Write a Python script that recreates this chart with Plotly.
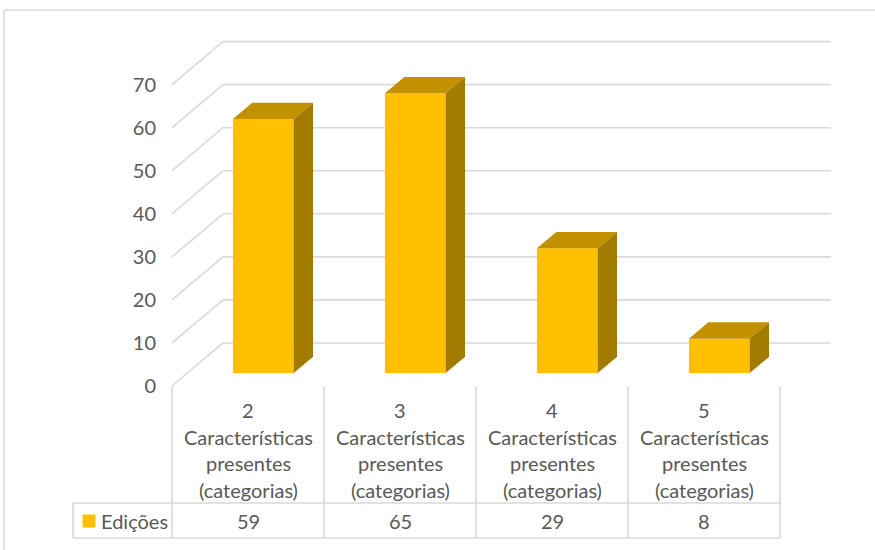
import plotly.graph_objects as go

# ---- data ----
categories_num = ["2", "3", "4", "5"]
category_lines = ["Características", "presentes", "(categorias)"]
series_name = "Edições"
values = [59, 65, 29, 8]
y_ticks = [0, 10, 20, 30, 40, 50, 60, 70]

# ---- styling / geometry constants ----
W, H = 875, 550
X0_PX, Y0_PX = 172, 386          # pixel of front-plane origin
PX_PER_CAT, PX_PER_UNIT = 152, 4.305
KX, KY = 0.3355, 10.0             # depth vector (category units, value units)
D1, D2 = 0.30, 0.68               # bar front / back depth
HALF_W = 0.2
FONT = "Lato"
FS = 20
TXT = "#595959"
GRID = "#D9D9D9"
FRONT, TOP, SIDE = "#FFC000", "#C29100", "#A27C00"


def px_x(p):
    return (p - X0_PX) / PX_PER_CAT


def px_y(p):
    return (Y0_PX - p) / PX_PER_UNIT


fig = go.Figure()
shapes = []

# back wall gridlines + left diagonal lines
n = len(values)
for t in y_ticks:
    shapes.append(dict(type="line", xref="x", yref="y", x0=0, y0=t, x1=KX, y1=t + KY,
                       line=dict(color=GRID, width=1.6), layer="below"))
    shapes.append(dict(type="line", xref="x", yref="y", x0=KX, y0=t + KY, x1=n + KX, y1=t + KY,
                       line=dict(color=GRID, width=1.6), layer="below"))

# front faces as bars
centers = [i + 0.5 + D1 * KX for i in range(n)]
fig.add_trace(go.Bar(x=centers, y=values, base=D1 * KY, width=2 * HALF_W,
                     marker=dict(color=FRONT, line=dict(width=0)), hoverinfo="skip",
                     showlegend=False))

dx, dy = (D2 - D1) * KX, (D2 - D1) * KY
for c, v in zip(centers, values):
    xl, xr = c - HALF_W, c + HALF_W
    yb, yt = D1 * KY, D1 * KY + v
    fig.add_trace(go.Scatter(x=[xl, xr, xr + dx, xl + dx, xl], y=[yt, yt, yt + dy, yt + dy, yt],
                             fill="toself", fillcolor=TOP, mode="lines", line=dict(width=0, color=TOP),
                             hoverinfo="skip", showlegend=False))
    fig.add_trace(go.Scatter(x=[xr, xr + dx, xr + dx, xr, xr], y=[yb, yb + dy, yt + dy, yt, yb],
                             fill="toself", fillcolor=SIDE, mode="lines", line=dict(width=0, color=SIDE),
                             hoverinfo="skip", showlegend=False))

# data table
row_top = 0
row_mid = px_y(503)
row_bot = px_y(538)
leg_left = px_x(73)
for i in range(n + 1):
    shapes.append(dict(type="line", xref="x", yref="y", x0=i, x1=i, y0=row_top, y1=row_bot,
                       line=dict(color=GRID, width=1.6)))
shapes.append(dict(type="line", xref="x", yref="y", x0=leg_left, x1=leg_left, y0=row_mid, y1=row_bot,
                   line=dict(color=GRID, width=1.6)))
for yy in (row_mid, row_bot):
    shapes.append(dict(type="line", xref="x", yref="y", x0=leg_left, x1=n, y0=yy, y1=yy,
                       line=dict(color=GRID, width=1.6)))

# outer chart border
shapes.append(dict(type="line", xref="paper", yref="paper", x0=4 / W, x1=1, y0=1 - 10 / H, y1=1 - 10 / H,
                   line=dict(color=GRID, width=1.6)))
shapes.append(dict(type="line", xref="paper", yref="paper", x0=4 / W, x1=4 / W, y0=0, y1=1 - 10 / H,
                   line=dict(color=GRID, width=1.6)))

annotations = []
line_px = [410, 436.5, 463, 490]
for i, (num, v) in enumerate(zip(categories_num, values)):
    for txt, py in zip([num] + category_lines, line_px):
        annotations.append(dict(x=i + 0.5, y=px_y(py), xref="x", yref="y", text=txt, showarrow=False,
                                font=dict(family=FONT, size=FS, color=TXT), xanchor="center", yanchor="middle"))
    annotations.append(dict(x=i + 0.5, y=px_y(520.5), xref="x", yref="y", text=str(v), showarrow=False,
                            font=dict(family=FONT, size=FS, color=TXT), xanchor="center", yanchor="middle"))
annotations.append(dict(x=px_x(99), y=px_y(520.5), xref="x", yref="y", text=series_name, showarrow=False,
                        font=dict(family=FONT, size=FS, color=TXT), xanchor="left", yanchor="middle"))

# legend key
fig.add_trace(go.Scatter(x=[px_x(89)], y=[px_y(521)], mode="markers",
                         marker=dict(symbol="square", size=13, color=FRONT, line=dict(width=0)),
                         hoverinfo="skip", showlegend=False))

fig.update_layout(
    template="none",
    width=W, height=H,
    margin=dict(l=0, r=0, t=0, b=0),
    paper_bgcolor="white", plot_bgcolor="white",
    showlegend=False,
    shapes=shapes, annotations=annotations,
    xaxis=dict(range=[px_x(0), px_x(W)], visible=False, fixedrange=True),
    yaxis=dict(range=[px_y(H), px_y(0)], anchor="free", position=156 / W, side="left",
               tickvals=y_ticks, ticktext=[str(t) for t in y_ticks], ticks="",
               showgrid=False, zeroline=False, showline=False, automargin=False,
               tickfont=dict(family=FONT, size=FS, color=TXT), fixedrange=True),
)

fig.write_html("out.html")
